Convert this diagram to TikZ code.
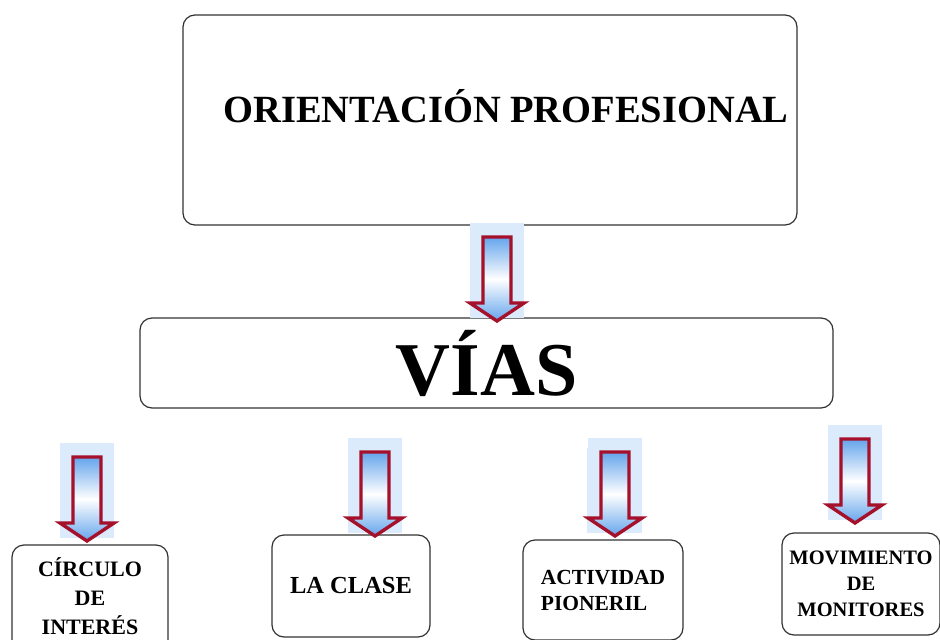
\documentclass[tikz,border=0pt]{standalone}
\usepackage{fontspec}
\setmainfont{Liberation Serif}

\definecolor{boxgray}{RGB}{50,50,50}
\definecolor{bgblue}{RGB}{220,235,252}
\definecolor{arrowblue}{RGB}{100,164,236}
\definecolor{arrowred}{RGB}{165,16,42}

\begin{document}
\begin{tikzpicture}[
    x = 1pt,
    y = -1pt,
    box/.style = {
      draw = boxgray,
      line width = 1.2pt,
      rounded corners = 12pt,
      inner sep = 0pt
    },
    bgfill/.style = {
      fill = bgblue
    },
    blockarrow/.style = {
      draw = arrowred,
      line width = 3.4pt,
      line join = miter,
      top color = arrowblue,
      bottom color = arrowblue,
      middle color = white
    }
  ]
  \useasboundingbox (0,0) rectangle (940,640);

  % boxes
  \node[box, minimum width=614pt, minimum height=210pt] (orient) at (490,120) {};
  \node[font=\bfseries\fontsize{38.5}{40}\selectfont] (orienttxt) at (506,106) {ORIENTACIÓN PROFESIONAL};

  \node[box, minimum width=693pt, minimum height=90pt,
        font=\bfseries\fontsize{76}{80}\selectfont] (vias) at (486.5,363) {VÍAS};

  \node[box, minimum width=156pt, minimum height=110pt, align=center,
        font=\bfseries\fontsize{22}{29}\selectfont] (circulo) at (90,600) {};
  \node[align=center, font=\bfseries\fontsize{22}{29}\selectfont] (circulotxt) at (90,596) {CÍRCULO\\DE\\INTERÉS};
  \node[box, minimum width=158pt, minimum height=102pt,
        font=\bfseries\fontsize{24.5}{30}\selectfont] (clase) at (351,586) {LA CLASE};
  \node[box, minimum width=160pt, minimum height=100pt, align=left,
        font=\bfseries\fontsize{21.5}{26}\selectfont] (actividad) at (603,590) {ACTIVIDAD\\PIONERIL};
  \node[box, minimum width=158pt, minimum height=102pt, align=center,
        font=\bfseries\fontsize{20.5}{26}\selectfont] (movimiento) at (861,584) {MOVIMIENTO\\DE\\MONITORES};

  % extra light patches
  \fill[bgfill] (360,448) rectangle (402,533);
  \fill[bgfill] (587,448) rectangle (629,533);

  % block arrows
  \foreach \cx/\top in {497/223, 87/443, 375/438, 615/438, 855/425} {
    \fill[bgfill] (\cx-27,\top) rectangle (\cx+27,\top+95);
    \draw[blockarrow] (\cx-14,\top+14) -- (\cx+14,\top+14) -- (\cx+14,\top+80)
      -- (\cx+27,\top+80) -- (\cx,\top+98) -- (\cx-27,\top+80)
      -- (\cx-14,\top+80) -- cycle;
  }
\end{tikzpicture}
\end{document}
